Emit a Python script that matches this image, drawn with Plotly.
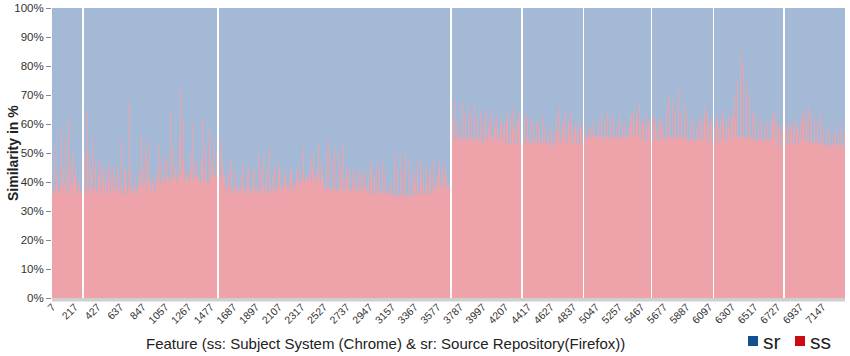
import plotly.graph_objects as go

# Feature ids: every 7th feature, 1050 features
features = [7 * (i + 1) for i in range(1050)]

# ss similarity (%) per feature; None marks empty features (white gaps)
ss_rows = [
    [38,36,41,52,37,39,60,44,37,36,48,40,58,38,36,45,39,55,41,37,43,62,38,36,47,40,37,50,39,42],
    [37,45,39,36,52,38,41,36,48,37,None,None,40,51,38,36,65,42,37,49,38,36,44,55,37,40,38,47,36,42],
    [38,42,47,39,37,44,40,38,46,36,41,39,45,37,40,38,47,36,43,39,38,45,37,40,42,38,46,39,37,41],
    [36,40,55,38,36,44,37,45,39,36,42,38,68,37,40,44,36,39,52,37,41,38,45,36,39,43,37,40,56,38],
    [38,45,40,52,39,37,48,41,38,55,40,37,46,39,42,38,50,37,44,40,38,53,41,39,47,38,42,40,49,39],
    [40,48,42,58,41,40,65,44,40,52,42,78,41,46,40,60,43,41,55,40,72,42,48,41,62,40,45,58,41,43],
    [42,66,40,50,44,41,60,40,47,42,70,41,45,40,56,42,40,48,41,62,40,44,42,52,41,39,46,40,58,42],
    [43,48,42,55,41,44,42,50,43,None,None,42,46,41,54,43,40,47,42,38,52,39,37,44,38,40,36,48,38,39],
    [37,44,38,46,37,40,36,45,38,37,42,36,47,38,37,41,39,36,44,37,46,38,36,40,37,43,38,36,45,37],
    [37,42,38,50,36,39,37,45,38,36,48,37,40,38,44,36,37,52,38,39,37,43,36,38,46,37,40,38,36,44],
    [38,46,40,37,48,39,38,42,37,44,39,38,47,40,37,43,38,45,39,37,48,40,38,44,37,41,39,46,38,40],
    [40,43,41,52,40,42,41,55,40,43,42,41,48,40,44,41,50,40,42,41,45,40,53,41,42,40,47,41,43,40],
    [37,45,38,51,37,40,38,55,37,42,38,48,37,39,52,38,37,44,38,50,37,41,38,46,37,53,38,40,37,45],
    [36,42,37,45,36,38,37,44,36,40,37,43,36,39,37,45,36,38,42,37,36,44,37,39,36,43,37,38,36,41],
    [36,44,37,48,36,39,37,42,36,46,37,38,36,45,37,40,36,48,37,39,36,43,37,46,36,38,37,44,36,40],
    [35,42,36,50,35,38,36,45,35,40,36,48,35,37,36,44,35,39,50,36,35,42,36,47,35,38,36,43,35,40],
    [35,43,36,47,35,38,36,48,35,40,36,44,35,37,36,46,35,39,36,42,35,45,36,38,35,48,36,40,35,42],
    [38,44,39,48,38,40,39,46,38,42,39,45,38,41,39,44,38,None,None,56,62,55,68,57,54,60,56,65,55,58],
    [54,62,56,68,54,58,55,64,54,60,56,66,54,57,55,63,54,59,56,67,54,58,55,62,54,60,56,65,54,57],
    [53,60,55,64,53,57,54,62,53,58,55,65,53,56,54,61,53,59,55,63,53,57,54,60,53,62,55,58,53,60],
    [53,61,55,65,53,57,54,63,53,59,55,66,53,58,54,62,53,60,55,64,53,None,None,58,54,62,53,57,55,63],
    [53,58,55,62,53,56,54,60,53,59,55,61,53,57,54,60,53,58,55,63,53,56,54,59,53,61,55,57,53,60],
    [52,60,54,65,52,57,53,63,52,58,54,66,52,56,53,61,52,59,54,64,52,57,53,62,52,60,54,65,52,58],
    [53,58,55,60,53,57,54,61,53,59,55,58,53,None,None,55,60,56,62,55,58,56,63,55,59,56,61,55,57,56],
    [55,62,56,60,55,58,56,63,55,59,56,61,55,57,56,64,55,60,56,62,55,58,56,63,55,61,56,59,55,62],
    [55,63,56,65,55,60,56,64,55,61,56,66,55,59,56,63,55,62,56,65,55,60,56,64,55,61,56,67,55,60],
    [54,62,55,60,54,58,55,63,54,60,55,61,54,None,55,62,54,60,55,63,54,58,55,61,54,60,55,62,54,59],
    [55,62,56,66,55,60,56,70,55,62,56,68,55,59,56,65,55,61,56,72,55,60,56,64,55,62,56,67,55,60],
    [54,63,55,66,54,60,55,64,54,62,55,68,54,59,55,65,54,61,55,63,54,60,55,66,54,62,55,64,54,60],
    [53,60,54,62,53,None,None,58,54,61,53,63,54,59,53,62,54,60,53,65,54,58,53,61,54,63,53,59,54,62],
    [55,65,56,70,55,62,56,75,55,68,56,85,55,72,56,80,55,66,56,74,55,63,56,70,55,67,56,64,55,62],
    [54,63,55,66,54,60,55,68,54,62,55,65,54,59,55,64,54,61,55,67,54,60,55,63,54,62,55,65,54,60],
    [52,58,53,60,52,57,53,59,None,None,52,60,53,58,52,61,53,57,52,60,53,59,52,62,53,58,52,60,53,57],
    [53,62,54,65,53,60,54,63,53,61,54,66,53,59,54,64,53,60,54,62,53,65,54,61,53,60,54,63,53,59],
    [52,58,53,60,52,57,53,61,52,59,53,62,52,56,53,60,52,58,53,61,52,57,53,59,52,60,53,58,52,57],
]
ss = [v for row in ss_rows for v in row]
sr = [None if v is None else 100 - v for v in ss]

tick_vals = [7 + 210 * k for k in range(35)]
tick_text = [str(v) for v in tick_vals]
y_ticks = list(range(0, 101, 10))
y_text = [f"{v}%" for v in y_ticks]

FONT = "Liberation Sans, Arial, sans-serif"
SS_BAR = "rgba(212,22,40,0.4)"
SR_BAR = "rgba(25,80,150,0.4)"
SS_LEG = "#cc0a16"
SR_LEG = "#13508f"

fig = go.Figure()
fig.add_trace(go.Bar(x=features, y=ss, marker=dict(color=SS_BAR, line=dict(width=0)),
                     showlegend=False, name="ss"))
fig.add_trace(go.Bar(x=features, y=sr, marker=dict(color=SR_BAR, line=dict(width=0)),
                     showlegend=False, name="sr"))

W, H = 850, 356
# plot area in window pixels: x 52..845, y 8..298
L, R, T, B = 52, 850 - 845, 8, 356 - 298
PW, PH = W - L - R, H - T - B


def px(x):  # window pixel -> paper
    return (x - L) / PW


def py(y):
    return (H - B - y) / PH


fig.update_layout(
    width=W, height=H,
    margin=dict(l=L, r=R, t=T, b=B),
    barmode="stack", bargap=0, bargroupgap=0,
    paper_bgcolor="white", plot_bgcolor="white",
    font=dict(family=FONT, color="#333333"),
    showlegend=False,
    xaxis=dict(range=[3.5, 7353.5], tickmode="array", tickvals=tick_vals, ticktext=tick_text,
               tickangle=-45, tickfont=dict(size=10.5, color="#333333"), ticks="",
               showgrid=False, zeroline=False, showline=False, fixedrange=True,
               automargin=False),
    yaxis=dict(range=[0, 100], tickmode="array", tickvals=y_ticks, ticktext=y_text,
               tickfont=dict(size=11.5, color="#333333"), ticks="outside", ticklen=5,
               tickcolor="#888888", showgrid=False, zeroline=False, showline=False,
               automargin=False),
    shapes=[
        dict(type="rect", xref="paper", yref="paper", x0=0, x1=1, y0=-3.5 / PH, y1=0,
             fillcolor="#cfcfcf", line=dict(width=0), layer="above"),
        # legend swatches
        dict(type="rect", xref="paper", yref="paper", x0=px(748), x1=px(758),
             y0=py(346), y1=py(336), fillcolor=SR_LEG, line=dict(width=0)),
        dict(type="rect", xref="paper", yref="paper", x0=px(795), x1=px(805),
             y0=py(346), y1=py(336), fillcolor=SS_LEG, line=dict(width=0)),
    ],
    annotations=[
        dict(text="Feature (ss: Subject System (Chrome) & sr: Source Repository(Firefox))",
             xref="paper", yref="paper", x=px(385), y=py(343),
             xanchor="center", yanchor="middle", showarrow=False,
             font=dict(size=15, color="#222222")),
        dict(text="<b>Similarity in %</b>", xref="paper", yref="paper",
             x=px(13), y=0.5, xanchor="center", yanchor="middle", textangle=-90,
             showarrow=False, font=dict(size=14, color="#222222")),
        dict(text="sr", xref="paper", yref="paper", x=px(761), y=py(341),
             xanchor="left", yanchor="middle", showarrow=False,
             font=dict(size=21, color="#222222")),
        dict(text="ss", xref="paper", yref="paper", x=px(808), y=py(341),
             xanchor="left", yanchor="middle", showarrow=False,
             font=dict(size=21, color="#222222")),
    ],
)

# remove the default 8px page margin so the figure fills the window exactly
fig.write_html("out.html", config={"displayModeBar": False},
               post_script="document.body.style.margin='0px';")
